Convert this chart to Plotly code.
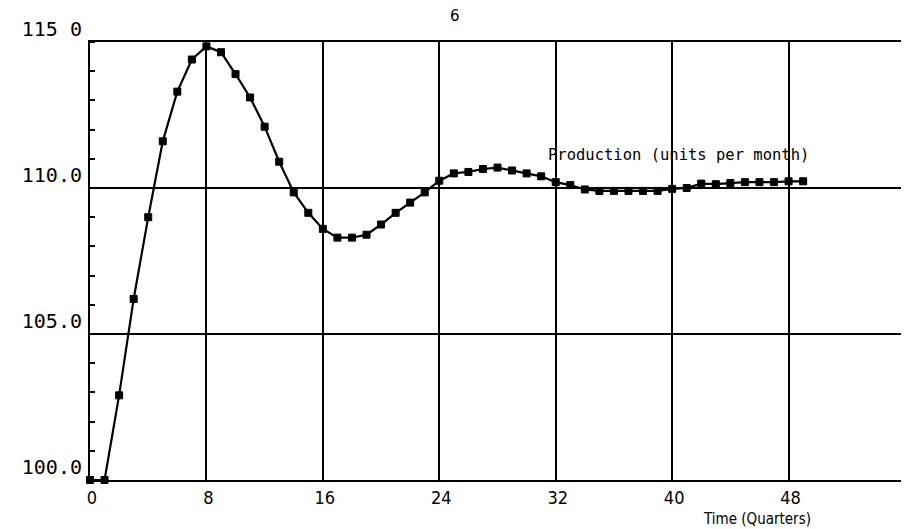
import plotly.graph_objects as go

# Time in quarters
quarters = list(range(0, 50))
# Production (units per month)
production = [
    100.0, 100.0, 102.9, 106.2, 109.0, 111.6, 113.3, 114.4, 114.85, 114.65,
    113.9, 113.1, 112.1, 110.9, 109.85, 109.15, 108.6, 108.3, 108.3, 108.4,
    108.75, 109.15, 109.5, 109.85, 110.25, 110.5, 110.55, 110.65, 110.7, 110.6,
    110.5, 110.4, 110.2, 110.1, 109.95, 109.9, 109.9, 109.9, 109.9, 109.9,
    109.97, 110.0, 110.15, 110.13, 110.17, 110.2, 110.2, 110.2, 110.23, 110.23,
]

x_tick_vals = [0, 8, 16, 24, 32, 40, 48]
x_tick_text = ["0", "8", "16", "24", "32", "40", "48"]
y_tick_vals = [100, 105, 110, 115]
y_tick_text = ["100.0", "105.0", "110.0", "115 0"]

series_label = "Production (units per month)"
x_title = "Time (Quarters)"
page_number = "6"

# the page body has an 8px default margin; compensate so the plot box
# lands at page pixels x 90..905, y 42..480
OFF = 8
W, H = 909 - OFF, 529 - OFF
L, R, T, B = 90 - OFF, 4, 42 - OFF, 49
PW, PH = W - L - R, H - T - B
PL, PB = 90, 480  # plot left / bottom in page pixels

fig = go.Figure()
fig.add_trace(go.Scatter(
    x=quarters, y=production, mode="lines+markers",
    line=dict(color="black", width=2.2),
    marker=dict(symbol="square", size=7, color="black",
                line=dict(color="black", width=1)),
    showlegend=False, hoverinfo="skip", cliponaxis=False,
))

cond_font = "DejaVu Sans Condensed, Liberation Sans Narrow, Roboto, DejaVu Sans"

fig.update_layout(
    width=W, height=H,
    margin=dict(l=L, r=R, t=T, b=B, autoexpand=False),
    paper_bgcolor="white", plot_bgcolor="white",
    xaxis=dict(
        range=[0, 56], tickvals=x_tick_vals, ticktext=x_tick_text,
        automargin=False,
        showgrid=True, gridcolor="black", gridwidth=2,
        showline=True, linecolor="black", linewidth=2, mirror=True,
        zeroline=False, ticks="", ticklabelstandoff=0, ticklabelshift=2,
        tickfont=dict(family=cond_font, size=18, color="black"),
    ),
    yaxis=dict(
        range=[100, 115], tickvals=y_tick_vals, ticktext=y_tick_text,
        automargin=False,
        showgrid=True, gridcolor="black", gridwidth=2,
        showline=True, linecolor="black", linewidth=2, mirror=True,
        zeroline=False, ticks="", ticklabelstandoff=2, ticklabelshift=-13,
        tickfont=dict(family="DejaVu Sans Mono", size=20, color="black"),
        minor=dict(dtick=1, ticks="inside", ticklen=5, tickwidth=2,
                   tickcolor="black", showgrid=False),
    ),
    annotations=[
        dict(text=series_label, x=31.3, y=111.12, xref="x", yref="y",
             xanchor="left", yanchor="middle", showarrow=False,
             font=dict(family="DejaVu Sans Mono", size=15.5, color="black")),
        dict(text=x_title, x=(757 - PL) / PW, y=-(519 - PB) / PH,
             xref="paper", yref="paper",
             xanchor="center", yanchor="middle", showarrow=False,
             font=dict(family=cond_font, size=15, color="black")),
        dict(text=page_number, x=(455 - PL) / PW, y=1 + (42 - 16) / PH,
             xref="paper", yref="paper", xanchor="center", yanchor="middle",
             showarrow=False, font=dict(family="DejaVu Sans", size=15, color="black")),
    ],
)

fig.write_html("out.html")
